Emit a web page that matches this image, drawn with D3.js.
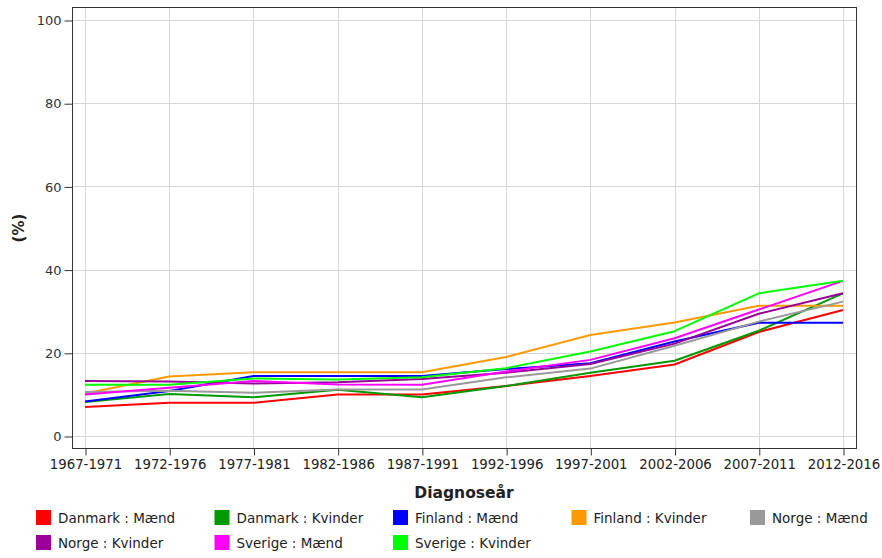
<!DOCTYPE html>
<html>
<head>
<meta charset="utf-8">
<script src="https://cdn.jsdelivr.net/npm/d3@7"></script>
<style>
  body { margin: 0; background: #fff; }
  text { font-family: "DejaVu Sans", Verdana, sans-serif; }
</style>
</head>
<body>
<div id="chart"></div>
<script>
// Diagnose periods (x axis)
var periods = ["1967-1971", "1972-1976", "1977-1981", "1982-1986", "1987-1991",
               "1992-1996", "1997-2001", "2002-2006", "2007-2011", "2012-2016"];

// Series values (%)
var danmarkMaend   = [7, 8, 8, 10, 10, 12, 14.4, 17.2, 25, 30.3];
var danmarkKvinder = [8.2, 10.1, 9.3, 11.1, 9.3, 12, 15.2, 18.1, 25.3, 34.3];
var finlandMaend   = [8.3, 10.8, 14.4, 14.4, 14.4, 16.1, 17.5, 22.7, 27.2, 27.2];
var finlandKvinder = [10.2, 14.3, 15.3, 15.3, 15.3, 19, 24.3, 27.3, 31.3, 31.3];
var norgeMaend     = [10.6, 10.9, 10.4, 11.2, 11.2, 14.1, 16.2, 21.7, 27.5, 32.3];
var norgeKvinder   = [13.2, 13.1, 12.6, 12.9, 13.7, 15.2, 17.3, 22.2, 29.4, 34.3];
var sverigeMaend   = [10, 11.6, 13.2, 12.4, 12.3, 15.5, 18.3, 23.5, 30.4, 37.3];
var sverigeKvinder = [12.3, 12.3, 13.8, 13.6, 14.1, 16.3, 20.3, 25.2, 34.3, 37.3];

var seriesNames  = ["Danmark : Mænd", "Danmark : Kvinder", "Finland : Mænd", "Finland : Kvinder",
                    "Norge : Mænd", "Norge : Kvinder", "Sverige : Mænd", "Sverige : Kvinder"];
var seriesColors = ["#ff0000", "#009900", "#0000ff", "#ff9900",
                    "#999999", "#990099", "#ff00ff", "#00ff00"];
var yTicks = [0, 20, 40, 60, 80, 100];

var series = [danmarkMaend, danmarkKvinder, finlandMaend, finlandKvinder,
              norgeMaend, norgeKvinder, sverigeMaend, sverigeKvinder].map(function(v, i) {
  return { name: seriesNames[i], color: seriesColors[i], values: v };
});

var width = 882, height = 558;
var frame = { left: 72.5, right: 856.5, top: 7.5, bottom: 448.5 };

var svg = d3.select("#chart").append("svg")
    .attr("width", width)
    .attr("height", height);

// Scales
var x = d3.scalePoint().domain(periods).range([85, 843]);
var y = d3.scaleLinear().domain([0, 100]).range([436, 20]);

// Gridlines
svg.append("g").selectAll("line.h")
    .data(yTicks).enter().append("line")
    .attr("x1", frame.left).attr("x2", frame.right)
    .attr("y1", function(d) { return Math.round(y(d)) + 0.5; })
    .attr("y2", function(d) { return Math.round(y(d)) + 0.5; })
    .attr("stroke", "#d6d6d6").attr("stroke-width", 1);

svg.append("g").selectAll("line.v")
    .data(periods).enter().append("line")
    .attr("x1", function(d) { return Math.round(x(d)) + 0.5; })
    .attr("x2", function(d) { return Math.round(x(d)) + 0.5; })
    .attr("y1", frame.top).attr("y2", frame.bottom)
    .attr("stroke", "#d6d6d6").attr("stroke-width", 1);

// Lines
var line = d3.line()
    .x(function(d, i) { return x(periods[i]); })
    .y(function(d) { return y(d); });

svg.append("g").selectAll("path")
    .data(series).enter().append("path")
    .attr("d", function(s) { return line(s.values); })
    .attr("fill", "none")
    .attr("stroke", function(s) { return s.color; })
    .attr("stroke-width", 2)
    .attr("stroke-linejoin", "round");

// Frame
svg.append("rect")
    .attr("x", frame.left).attr("y", frame.top)
    .attr("width", frame.right - frame.left)
    .attr("height", frame.bottom - frame.top)
    .attr("fill", "none")
    .attr("stroke", "#333").attr("stroke-width", 1);

// Y axis
var yAxis = d3.axisLeft(y).tickValues(yTicks).tickSize(8).tickPadding(3);
var gy = svg.append("g")
    .attr("transform", "translate(" + frame.left + ",0.5)")
    .call(yAxis);
gy.select(".domain").remove();
gy.selectAll("line").attr("stroke", "#333");
gy.selectAll("text").attr("font-size", 13).attr("fill", "#333")
    .style("font-family", "'DejaVu Sans', sans-serif");

// X axis
var xAxis = d3.axisBottom(x).tickSize(7).tickPadding(4);
var gx = svg.append("g")
    .attr("transform", "translate(0.5," + frame.bottom + ")")
    .call(xAxis);
gx.select(".domain").remove();
gx.selectAll("line").attr("stroke", "#333");
gx.selectAll("text").attr("font-size", 13.3).attr("fill", "#222")
    .style("font-family", "'DejaVu Sans', sans-serif");

// Axis titles
svg.append("text")
    .attr("transform", "translate(24," + 228 + ") rotate(-90)")
    .attr("text-anchor", "middle")
    .attr("font-size", 15).attr("font-weight", "bold").attr("fill", "#222")
    .text("(%)");

svg.append("text")
    .attr("x", 464).attr("y", 498)
    .attr("text-anchor", "middle")
    .attr("font-size", 15.5).attr("font-weight", "bold").attr("fill", "#222")
    .style("font-family", "'DejaVu Sans', sans-serif")
    .text("Diagnoseår");

// Legend
var legend = svg.append("g").selectAll("g")
    .data(series).enter().append("g")
    .attr("transform", function(d, i) {
      return "translate(" + (36 + (i % 5) * 178.5) + "," + (510 + Math.floor(i / 5) * 25) + ")";
    });
legend.append("rect")
    .attr("width", 15).attr("height", 15)
    .attr("fill", function(d) { return d.color; });
legend.append("text")
    .attr("x", 22).attr("y", 12.5)
    .attr("font-size", 13.5).attr("fill", "#222")
    .style("font-family", "'DejaVu Sans', sans-serif")
    .text(function(d) { return d.name; });
</script>
</body>
</html>
